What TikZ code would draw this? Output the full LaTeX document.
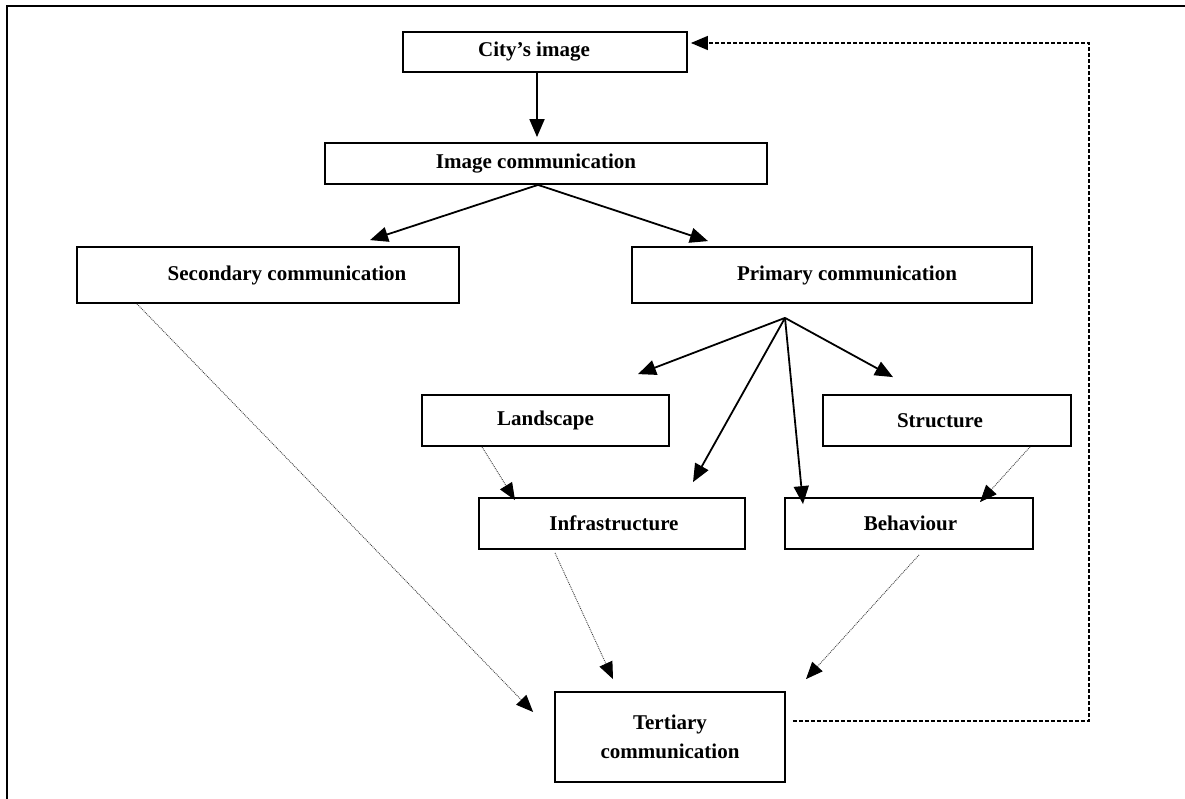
\documentclass[tikz,border=0pt]{standalone}
\usepackage{fontspec}
\setmainfont{Liberation Serif}
\usetikzlibrary{arrows.meta}
\begin{document}
\begin{tikzpicture}[x=1pt,y=-1pt,
  box/.style={draw,line width=1.8pt,inner sep=0pt,minimum height=51pt,
    font=\bfseries\fontsize{21}{29}\selectfont,align=center},
  solidarrow/.style={line width=1.8pt,-{Triangle[length=18pt,width=15pt]}},
  dotarrow/.style={line width=0.9pt,densely dotted,draw=black!75,
    -{Triangle[length=17pt,width=14pt,color=black]}},
  feedback/.style={line width=1.4pt,dash pattern=on 4pt off 2pt,
    -{Triangle[length=17pt,width=14pt]}}]
\useasboundingbox (0,0) rectangle (1185,799);

% page frame (top and left edges)
\draw[line width=2pt] (7,799) -- (7,6) -- (1185,6);

% boxes
\node[box,minimum width=284pt,minimum height=40pt] (city) at (545,52) {City's image\hspace*{22pt}};
\node[box,minimum width=442pt,minimum height=41pt] (imgc) at (546,163.5) {Image communication\hspace*{20pt}};
\node[box,minimum width=382pt,minimum height=56pt] (sec) at (268,275) {\hspace*{38pt}Secondary communication};
\node[box,minimum width=400pt,minimum height=56pt] (prim) at (832,275) {\hspace*{30pt}Primary communication};
\node[box,minimum width=247pt] (land) at (545.5,420.5) {Landscape};
\node[box,minimum width=248pt] (struct) at (947,420.5) {Structure\hspace*{14pt}};
\node[box,minimum width=266pt] (infra) at (612,523.5) {\hspace*{4pt}Infrastructure};
\node[box,minimum width=248pt] (behav) at (909,523.5) {\hspace*{3pt}Behaviour};
\node[box,minimum width=230pt,minimum height=90pt] (tert) at (670,737) {Tertiary\\communication};

% main flow
\draw[solidarrow] ([xshift=-8pt]city.south) -- ([xshift=-9pt,yshift=5pt]imgc.north);
\draw[solidarrow] ([xshift=-8pt]imgc.south) -- ([xshift=102pt,yshift=6pt]sec.north);
\draw[solidarrow] ([xshift=-8pt]imgc.south) -- ([xshift=-124pt,yshift=5pt]prim.north);

% primary communication branches
\coordinate (hub) at ([xshift=-47pt,yshift=-14pt]prim.south);
\draw[solidarrow] (hub) -- ([xshift=92.5pt,yshift=20pt]land.north);
\draw[solidarrow] (hub) -- ([xshift=-54pt,yshift=17pt]struct.north);
\draw[solidarrow] (hub) -- ([xshift=81pt,yshift=15pt]infra.north);
\draw[solidarrow] (hub) -- ([xshift=-106pt,yshift=-7pt]behav.north);

% dotted influences
\draw[dotarrow] ([xshift=-63.5pt]land.south) -- ([xshift=-97pt,yshift=-3pt]infra.north);
\draw[dotarrow] ([xshift=83pt]struct.south) -- ([xshift=71pt,yshift=-5pt]behav.north);
\draw[dotarrow] ([xshift=-131pt]sec.south) -- ([xshift=-21pt,yshift=25pt]tert.west);
\draw[dotarrow] ([xshift=-57pt,yshift=-3pt]infra.south) -- ([xshift=-57pt,yshift=12pt]tert.north);
\draw[dotarrow] ([xshift=10pt,yshift=-5pt]behav.south) -- ([xshift=136pt,yshift=12pt]tert.north);

% feedback loop
\coordinate (turn) at (1089,43);
\draw[feedback] ([xshift=7pt,yshift=16pt]tert.east) -| (turn) -- ([xshift=3pt,yshift=9pt]city.east);
\end{tikzpicture}
\end{document}
